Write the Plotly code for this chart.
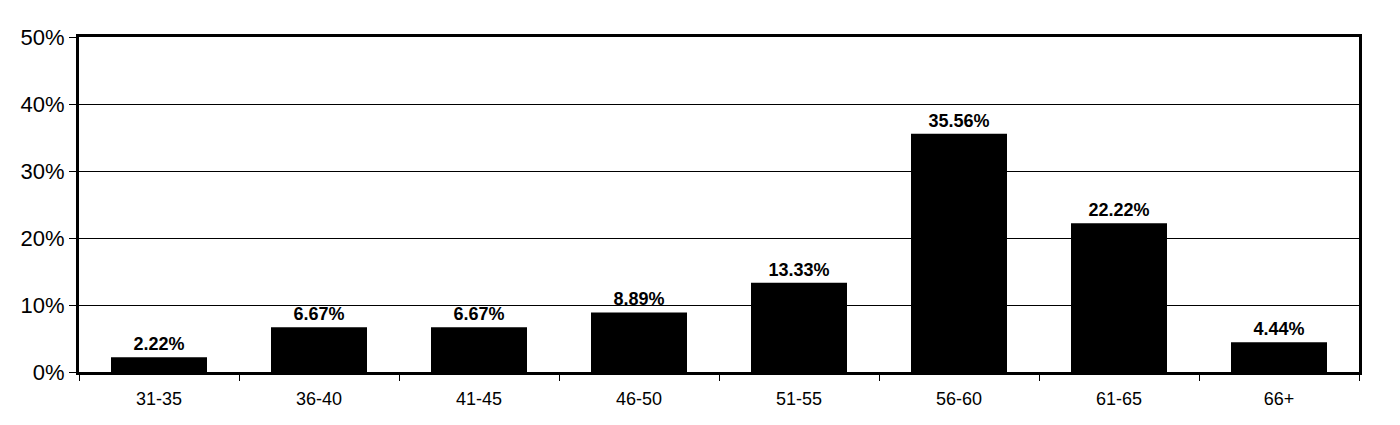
import plotly.graph_objects as go

age_groups = ["31-35", "36-40", "41-45", "46-50", "51-55", "56-60", "61-65", "66+"]
shares = [2.22, 6.67, 6.67, 8.89, 13.33, 35.56, 22.22, 4.44]
labels = [f"{v:.2f}%" for v in shares]

FONT = "Liberation Sans Narrow, Arial Narrow, Liberation Sans, Arial, sans-serif"

fig = go.Figure(go.Bar(
    x=age_groups,
    y=[v / 100 for v in shares],
    text=labels,
    textposition="outside",
    cliponaxis=False,
    textfont=dict(family=FONT, size=18, color="black", weight="bold"),
    marker=dict(color="black", line=dict(width=0)),
))

# page body adds ~8px offset, so the figure is sized a bit smaller
fig.update_layout(
    width=1392, height=417,
    margin=dict(l=71, r=41, t=29, b=53),
    paper_bgcolor="white",
    plot_bgcolor="white",
    bargap=0.4,
    showlegend=False,
    font=dict(family=FONT, color="black"),
)
fig.update_xaxes(
    showline=True, linewidth=3, linecolor="black", mirror=True,
    ticks="outside", ticklen=6, tickcolor="black", tickwidth=1,
    tickson="boundaries", ticklabelstandoff=8,
    tickfont=dict(family=FONT, size=18, color="black"),
    showgrid=False,
)
fig.update_yaxes(
    range=[0, 0.5], dtick=0.1, tickformat=".0%",
    showline=True, linewidth=3, linecolor="black", mirror=True,
    ticks="outside", ticklen=7, tickcolor="black", tickwidth=1,
    tickfont=dict(family=FONT, size=22, color="black"),
    showgrid=True, gridcolor="black", gridwidth=1,
    zeroline=False,
)

fig.write_html("out.html")
